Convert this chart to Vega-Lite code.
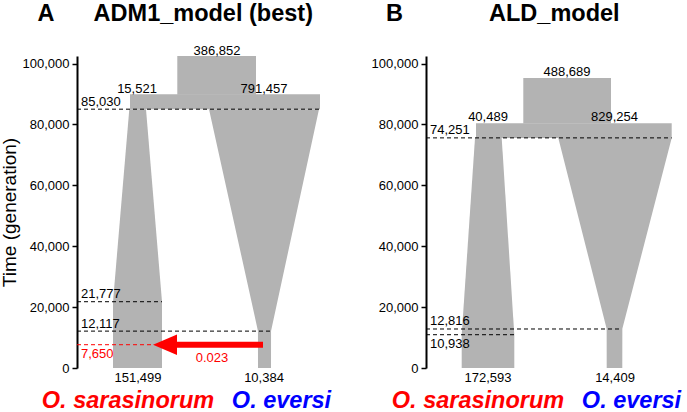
{
  "$schema": "https://vega.github.io/schema/vega-lite/v6.json",
  "background": "white",
  "padding": {"left": 0, "top": 2, "right": 4, "bottom": 0},
  "bounds": "flush",
  "spacing": 20,
  "config": {
    "view": {"stroke": null},
    "font": "Liberation Sans",
    "axisY": {
      "labelFontSize": 13, "labelColor": "black", "labelPadding": 3, "labelFont": "Liberation Sans",
      "tickSize": 5, "tickWidth": 1.5, "tickColor": "black",
      "domainColor": "black", "domainWidth": 2, "grid": false,
      "titleFontSize": 19, "titleFontWeight": "normal", "titleColor": "black", "titlePadding": 3, "titleFont": "Liberation Sans"
    }
  },
  "datasets": {
    "shapesA": [
      {"s": "band", "x": 53, "lo": 85030, "hi": 89900},
      {"s": "band", "x": 243, "lo": 85030, "hi": 89900},
      {"s": "anc", "x": 100.3, "lo": 89800, "hi": 102500},
      {"s": "anc", "x": 179, "lo": 89800, "hi": 102500},
      {"s": "sar", "x": 36, "lo": 0, "hi": 21777},
      {"s": "sar", "x": 52.3, "lo": 0, "hi": 85030},
      {"s": "sar", "x": 69, "lo": 0, "hi": 85030},
      {"s": "sar", "x": 85, "lo": 0, "hi": 21777},
      {"s": "eve", "x": 132, "lo": 85030, "hi": 85030},
      {"s": "eve", "x": 180.95, "lo": 12191, "hi": 85030},
      {"s": "eve", "x": 181, "lo": 0, "hi": 85030},
      {"s": "eve", "x": 194, "lo": 0, "hi": 85030},
      {"s": "eve", "x": 194.05, "lo": 12191, "hi": 85030},
      {"s": "eve", "x": 242, "lo": 85030, "hi": 85030}
    ],
    "linesA": [
      {"v": 85030, "xs": 0, "xe": 243, "lab": "85,030"},
      {"v": 21777, "xs": 0, "xe": 85, "lab": "21,777"},
      {"v": 12117, "xs": 0, "xe": 194, "lab": "12,117"}
    ],
    "redA": [{"v": 7650, "xs": 0, "xe": 76, "lab": "7,650"}],
    "shaftA": [{"v": 7650, "xs": 98, "xe": 186}],
    "headA": [
      {"x": 76, "lo": 7650, "hi": 7650},
      {"x": 100, "lo": 4270, "hi": 11030}
    ],
    "migA": [{"x": 135, "v": 3200, "t": "0.023"}],
    "popA": [
      {"x": 140, "v": 104300, "t": "386,852"},
      {"x": 60, "v": 91700, "t": "15,521"},
      {"x": 187, "v": 91700, "t": "791,457"},
      {"x": 61, "v": -3400, "t": "151,499"},
      {"x": 187, "v": -3400, "t": "10,384"}
    ],
    "titleA": [
      {"x": -31, "v": 113900, "t": "A"},
      {"x": 126.3, "v": 113900, "t": "ADM1_model (best)"}
    ],
    "spA": [
      {"x": 51, "v": -13200, "t": "O. sarasinorum"},
      {"x": 204.5, "v": -13200, "t": "O. eversi"}
    ],
    "shapesB": [
      {"s": "band", "x": 50, "lo": 75600, "hi": 80400},
      {"s": "band", "x": 245.7, "lo": 75600, "hi": 80400},
      {"s": "anc", "x": 97.3, "lo": 80300, "hi": 95300},
      {"s": "anc", "x": 185, "lo": 80300, "hi": 95300},
      {"s": "sar", "x": 35.7, "lo": 0, "hi": 10938},
      {"s": "sar", "x": 49, "lo": 0, "hi": 75600},
      {"s": "sar", "x": 75.7, "lo": 0, "hi": 75600},
      {"s": "sar", "x": 88.3, "lo": 0, "hi": 10938},
      {"s": "eve", "x": 132.3, "lo": 75600, "hi": 75600},
      {"s": "eve", "x": 180.65, "lo": 12881, "hi": 75600},
      {"s": "eve", "x": 180.7, "lo": 0, "hi": 75600},
      {"s": "eve", "x": 196.3, "lo": 0, "hi": 75600},
      {"s": "eve", "x": 196.35, "lo": 12881, "hi": 75600},
      {"s": "eve", "x": 245.7, "lo": 75600, "hi": 75600}
    ],
    "linesB": [
      {"v": 75600, "xs": 0, "xe": 245.7, "lab": "74,251"},
      {"v": 12816, "xs": 0, "xe": 196, "lab": "12,816"},
      {"v": 10938, "xs": 0, "xe": 88.3, "lab": "10,938"}
    ],
    "aboveB": [
      {"v": 75600, "xs": 0, "lab": "74,251"},
      {"v": 12816, "xs": 0, "lab": "12,816"}
    ],
    "belowB": [{"v": 10938, "xs": 0, "lab": "10,938"}],
    "popB": [
      {"x": 141, "v": 97400, "t": "488,689"},
      {"x": 62, "v": 82300, "t": "40,489"},
      {"x": 188.5, "v": 82300, "t": "829,254"},
      {"x": 62, "v": -3400, "t": "172,593"},
      {"x": 189, "v": -3400, "t": "14,409"}
    ],
    "titleB": [
      {"x": -31.5, "v": 113900, "t": "B"},
      {"x": 128.3, "v": 113900, "t": "ALD_model"}
    ],
    "spB": [
      {"x": 52, "v": -13200, "t": "O. sarasinorum"},
      {"x": 205.5, "v": -13200, "t": "O. eversi"}
    ]
  },
  "hconcat": [
    {
      "width": 329,
      "height": 312,
      "layer": [
        {
          "data": {"name": "shapesA"},
          "mark": {"type": "area", "orient": "vertical", "color": "#b3b3b3"},
          "encoding": {
            "x": {"field": "x", "type": "quantitative", "scale": {"domain": [0, 329], "nice": false, "zero": false}, "axis": null},
            "y": {"field": "lo", "type": "quantitative", "scale": {"domain": [0, 102500], "nice": false, "zero": false},
                  "axis": {"title": "Time (generation)", "values": [0, 20000, 40000, 60000, 80000, 100000], "format": ",d"}},
            "y2": {"field": "hi"},
            "detail": {"field": "s", "type": "nominal"}
          }
        },
        {
          "data": {"name": "linesA"},
          "mark": {"type": "rule", "strokeDash": [4, 3], "strokeWidth": 1, "color": "black"},
          "encoding": {
            "y": {"field": "v", "type": "quantitative", "axis": {"title": "Time (generation)", "values": [0, 20000, 40000, 60000, 80000, 100000], "format": ",d"}},
            "x": {"field": "xs", "type": "quantitative", "axis": null},
            "x2": {"field": "xe"}
          }
        },
        {
          "data": {"name": "linesA"},
          "mark": {"type": "text", "align": "left", "baseline": "middle", "dx": 4, "dy": -7.5, "fontSize": 13, "color": "black"},
          "encoding": {
            "y": {"field": "v", "type": "quantitative", "axis": {"title": "Time (generation)", "values": [0, 20000, 40000, 60000, 80000, 100000], "format": ",d"}},
            "x": {"field": "xs", "type": "quantitative", "axis": null},
            "text": {"field": "lab", "type": "nominal"}
          }
        },
        {
          "data": {"name": "redA"},
          "mark": {"type": "rule", "strokeDash": [4, 3], "strokeWidth": 1, "color": "#ff0000"},
          "encoding": {
            "y": {"field": "v", "type": "quantitative", "axis": {"title": "Time (generation)", "values": [0, 20000, 40000, 60000, 80000, 100000], "format": ",d"}},
            "x": {"field": "xs", "type": "quantitative", "axis": null},
            "x2": {"field": "xe"}
          }
        },
        {
          "data": {"name": "redA"},
          "mark": {"type": "text", "align": "left", "baseline": "middle", "dx": 4, "dy": 9, "fontSize": 13, "color": "#ff0000"},
          "encoding": {
            "y": {"field": "v", "type": "quantitative", "axis": {"title": "Time (generation)", "values": [0, 20000, 40000, 60000, 80000, 100000], "format": ",d"}},
            "x": {"field": "xs", "type": "quantitative", "axis": null},
            "text": {"field": "lab", "type": "nominal"}
          }
        },
        {
          "data": {"name": "shaftA"},
          "mark": {"type": "rule", "strokeWidth": 6, "color": "#ff0000", "strokeCap": "butt"},
          "encoding": {
            "y": {"field": "v", "type": "quantitative", "axis": {"title": "Time (generation)", "values": [0, 20000, 40000, 60000, 80000, 100000], "format": ",d"}},
            "x": {"field": "xs", "type": "quantitative", "axis": null},
            "x2": {"field": "xe"}
          }
        },
        {
          "data": {"name": "headA"},
          "mark": {"type": "area", "orient": "vertical", "color": "#ff0000"},
          "encoding": {
            "y": {"field": "lo", "type": "quantitative", "axis": {"title": "Time (generation)", "values": [0, 20000, 40000, 60000, 80000, 100000], "format": ",d"}},
            "y2": {"field": "hi"},
            "x": {"field": "x", "type": "quantitative", "axis": null}
          }
        },
        {
          "data": {"name": "migA"},
          "mark": {"type": "text", "align": "center", "baseline": "middle", "fontSize": 13, "color": "#ff0000"},
          "encoding": {
            "y": {"field": "v", "type": "quantitative", "axis": {"title": "Time (generation)", "values": [0, 20000, 40000, 60000, 80000, 100000], "format": ",d"}},
            "x": {"field": "x", "type": "quantitative", "axis": null},
            "text": {"field": "t", "type": "nominal"}
          }
        },
        {
          "data": {"name": "popA"},
          "mark": {"type": "text", "align": "center", "baseline": "middle", "fontSize": 13, "color": "black"},
          "encoding": {
            "y": {"field": "v", "type": "quantitative", "axis": {"title": "Time (generation)", "values": [0, 20000, 40000, 60000, 80000, 100000], "format": ",d"}},
            "x": {"field": "x", "type": "quantitative", "axis": null},
            "text": {"field": "t", "type": "nominal"}
          }
        },
        {
          "data": {"name": "titleA"},
          "mark": {"type": "text", "align": "center", "baseline": "alphabetic", "fontSize": 23.5, "fontWeight": "bold", "color": "black"},
          "encoding": {
            "y": {"field": "v", "type": "quantitative", "axis": {"title": "Time (generation)", "values": [0, 20000, 40000, 60000, 80000, 100000], "format": ",d"}},
            "x": {"field": "x", "type": "quantitative", "axis": null},
            "text": {"field": "t", "type": "nominal"}
          }
        },
        {
          "data": {"name": "spA"},
          "mark": {"type": "text", "align": "center", "baseline": "alphabetic", "fontSize": 23.5, "fontWeight": "bold", "fontStyle": "italic"},
          "encoding": {
            "y": {"field": "v", "type": "quantitative", "axis": {"title": "Time (generation)", "values": [0, 20000, 40000, 60000, 80000, 100000], "format": ",d"}},
            "x": {"field": "x", "type": "quantitative", "axis": null},
            "text": {"field": "t", "type": "nominal"},
            "color": {"field": "t", "type": "nominal", "scale": {"domain": ["O. sarasinorum", "O. eversi"], "range": ["#ff0000", "#0000ff"]}, "legend": null}
          }
        }
      ]
    },
    {
      "width": 255,
      "height": 312,
      "layer": [
        {
          "data": {"name": "shapesB"},
          "mark": {"type": "area", "orient": "vertical", "color": "#b3b3b3"},
          "encoding": {
            "x": {"field": "x", "type": "quantitative", "scale": {"domain": [0, 255], "nice": false, "zero": false}, "axis": null},
            "y": {"field": "lo", "type": "quantitative", "scale": {"domain": [0, 102500], "nice": false, "zero": false},
                  "axis": {"title": null, "values": [0, 20000, 40000, 60000, 80000, 100000], "format": ",d"}},
            "y2": {"field": "hi"},
            "detail": {"field": "s", "type": "nominal"}
          }
        },
        {
          "data": {"name": "linesB"},
          "mark": {"type": "rule", "strokeDash": [4, 3], "strokeWidth": 1, "color": "black"},
          "encoding": {
            "y": {"field": "v", "type": "quantitative", "axis": {"title": null, "values": [0, 20000, 40000, 60000, 80000, 100000], "format": ",d"}},
            "x": {"field": "xs", "type": "quantitative", "axis": null},
            "x2": {"field": "xe"}
          }
        },
        {
          "data": {"name": "aboveB"},
          "mark": {"type": "text", "align": "left", "baseline": "middle", "dx": 4, "dy": -7.5, "fontSize": 13, "color": "black"},
          "encoding": {
            "y": {"field": "v", "type": "quantitative", "axis": {"title": null, "values": [0, 20000, 40000, 60000, 80000, 100000], "format": ",d"}},
            "x": {"field": "xs", "type": "quantitative", "axis": null},
            "text": {"field": "lab", "type": "nominal"}
          }
        },
        {
          "data": {"name": "belowB"},
          "mark": {"type": "text", "align": "left", "baseline": "middle", "dx": 4, "dy": 9, "fontSize": 13, "color": "black"},
          "encoding": {
            "y": {"field": "v", "type": "quantitative", "axis": {"title": null, "values": [0, 20000, 40000, 60000, 80000, 100000], "format": ",d"}},
            "x": {"field": "xs", "type": "quantitative", "axis": null},
            "text": {"field": "lab", "type": "nominal"}
          }
        },
        {
          "data": {"name": "popB"},
          "mark": {"type": "text", "align": "center", "baseline": "middle", "fontSize": 13, "color": "black"},
          "encoding": {
            "y": {"field": "v", "type": "quantitative", "axis": {"title": null, "values": [0, 20000, 40000, 60000, 80000, 100000], "format": ",d"}},
            "x": {"field": "x", "type": "quantitative", "axis": null},
            "text": {"field": "t", "type": "nominal"}
          }
        },
        {
          "data": {"name": "titleB"},
          "mark": {"type": "text", "align": "center", "baseline": "alphabetic", "fontSize": 23.5, "fontWeight": "bold", "color": "black"},
          "encoding": {
            "y": {"field": "v", "type": "quantitative", "axis": {"title": null, "values": [0, 20000, 40000, 60000, 80000, 100000], "format": ",d"}},
            "x": {"field": "x", "type": "quantitative", "axis": null},
            "text": {"field": "t", "type": "nominal"}
          }
        },
        {
          "data": {"name": "spB"},
          "mark": {"type": "text", "align": "center", "baseline": "alphabetic", "fontSize": 23.5, "fontWeight": "bold", "fontStyle": "italic"},
          "encoding": {
            "y": {"field": "v", "type": "quantitative", "axis": {"title": null, "values": [0, 20000, 40000, 60000, 80000, 100000], "format": ",d"}},
            "x": {"field": "x", "type": "quantitative", "axis": null},
            "text": {"field": "t", "type": "nominal"},
            "color": {"field": "t", "type": "nominal", "scale": {"domain": ["O. sarasinorum", "O. eversi"], "range": ["#ff0000", "#0000ff"]}, "legend": null}
          }
        }
      ]
    }
  ]
}
